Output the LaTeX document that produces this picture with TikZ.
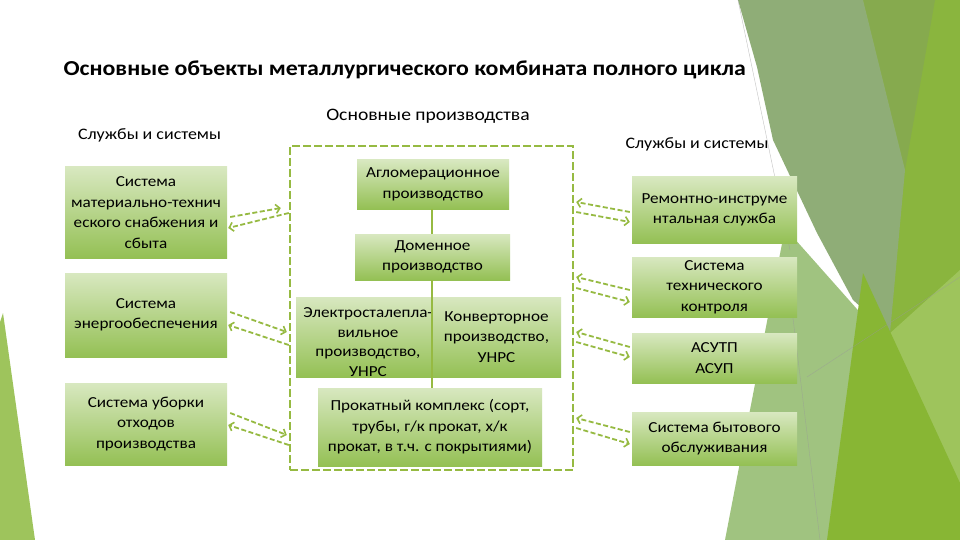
\documentclass[tikz,border=0pt]{standalone}
\usepackage{fontspec}
\setmainfont[FakeStretch=1.12]{Carlito}
\usetikzlibrary{arrows.meta,calc}
\definecolor{boxtop}{RGB}{216,232,192}
\definecolor{boxbot}{RGB}{148,192,84}
\definecolor{olive}{RGB}{150,186,66}
\definecolor{bggray}{RGB}{143,173,119}
\definecolor{bgmid}{RGB}{134,170,78}
\definecolor{bggreen}{RGB}{138,181,62}
\definecolor{bgsage}{RGB}{160,195,128}
\definecolor{bgbright}{RGB}{136,182,52}
\definecolor{bglight}{RGB}{158,196,92}
\begin{document}
\begin{tikzpicture}[x=1pt,y=-1pt,
  box/.style={shade, top color=boxtop, bottom color=boxbot, inner sep=0pt,
    align=center, font=\fontsize{15.3}{20.5}\selectfont, text=black},
  frm/.style={draw=olive, line width=2.4pt, dash pattern=on 8pt off 3pt},
  link/.style={draw=olive, line width=1.8pt, dash pattern=on 5pt off 2.5pt,
    -{Straight Barb[length=4pt,width=9pt,line width=1.6pt]}},
  stem/.style={draw=olive, line width=1.6pt},
  hdr/.style={font=\fontsize{16}{19}\selectfont},
  thin/.style={draw=black!40, line width=0.4pt, opacity=0.6}]
% background
\fill[white] (0,0) rectangle (960,540);
\useasboundingbox (0,0) rectangle (960,540);
\fill[bggreen] (860,0) -- (960,0) -- (960,540) -- (840,540) -- (885,330) -- cycle;
\fill[bgmid] (863,0) -- (935,0) -- (905,170) -- cycle;
\fill[bglight] (888,335) -- (960,270) -- (960,483) -- (900,420) -- cycle;
\fill[bggray] (738,0) -- (863,0) -- (905,170) -- (890,333) -- (853,300) -- (817,233) -- (773,140) -- (757,67) -- cycle;
\fill[bgsage] (785,228) -- (880,335) -- (845,540) -- (725,540) -- cycle;
\fill[bgbright] (863,273) -- (827,540) -- (960,540) -- (960,483) -- cycle;
\draw[thin] (738,0) -- (790,250);
\draw[thin] (792,310) -- (820,540);
\draw[thin] (807,377) -- (960,277);
\fill[bglight] (0,322) -- (3,313) -- (35,540) -- (0,540) -- cycle;
% title and headers
\node[font=\fontsize{21.3}{24}\selectfont\bfseries, anchor=west] (title) at (60,70)
  {Основные объекты металлургического комбината полного цикла};
\node[font=\fontsize{17.5}{20}\selectfont] (hmain) at (428,116) {Основные производства};
\node[hdr] (hleft) at (149.5,135) {Службы и системы};
\node[hdr] (hright) at (697,144) {Службы и системы};
% frame
\node[frm, minimum width=283pt, minimum height=324pt] (frame) at (431.5,308) {};
% left boxes
\node[box, minimum width=162pt, minimum height=91pt] (L1) at (146,212.5)
  {Система\\материально-технич\\еского снабжения и\\сбыта};
\node[box, minimum width=162pt, minimum height=84pt] (L2) at (146,315)
  {Система\\энергообеспечения};
\node[box, minimum width=162pt, minimum height=82pt] (L3) at (146,424)
  {Система уборки\\отходов\\производства};
% centre boxes
\node[box, minimum width=152pt, minimum height=49pt] (C1) at (433,184.5)
  {Агломерационное\\производство};
\node[box, minimum width=155pt, minimum height=46pt] (C2) at (432.5,257)
  {Доменное\\производство};
\node[box, minimum width=137pt, minimum height=80pt] (C3) at (364.5,337) {};
\node[box, minimum width=129pt, minimum height=80pt] (C4) at (496.5,337)
  {Конверторное\\производство,\\УНРС};
\node[font=\fontsize{15.3}{19.5}\selectfont, align=center, inner sep=0pt] (C3t) at (368,342)
  {Электросталепла-\\вильное\\производство,\\УНРС};
\node[box, minimum width=224pt, minimum height=78pt] (C5) at (430,427)
  {Прокатный комплекс (сорт,\\трубы, г/к прокат, х/к\\прокат, в т.ч. с покрытиями)};
% right boxes
\node[box, minimum width=165pt, minimum height=66pt] (R1) at (714.5,210)
  {Ремонтно-инструме\\нтальная служба};
\node[box, minimum width=165pt, minimum height=60pt] (R2) at (714.5,287)
  {Система\\технического\\контроля};
\node[box, minimum width=165pt, minimum height=50pt] (R3) at (714.5,358)
  {АСУТП\\АСУП};
\node[box, minimum width=165pt, minimum height=53pt] (R4) at (714.5,438.5)
  {Система бытового\\обслуживания};
% stems
\draw[stem] (C1.south -| 432,0) -- (C2.north -| 432,0);
\draw[stem] (C2.south -| 432,0) -- (C5.north -| 432,0);
% left links
\draw[link] ($(L1.east)+(3,4.5)$) -- ($(frame.west)+(-8,-100)$);
\draw[link] ($(frame.west)+(0,-95)$) -- ($(L1.east)+(1,15.5)$);
\draw[link] ($(L2.east)+(3,-3)$) -- ($(frame.west)+(-2,24)$);
\draw[link] ($(frame.west)+(0,37)$) -- ($(L2.east)+(1,10)$);
\draw[link] ($(L3.east)+(3,-11)$) -- ($(frame.west)+(-2,127)$);
\draw[link] ($(frame.west)+(0,137)$) -- ($(L3.east)+(1,1)$);
% right links
\draw[link] ($(R1.west)+(-2,2)$) -- ($(frame.east)+(2,-106)$);
\draw[link] ($(frame.east)+(2,-96)$) -- ($(R1.west)+(-2,12)$);
\draw[link] ($(R2.west)+(-2,3)$) -- ($(frame.east)+(2,-31)$);
\draw[link] ($(frame.east)+(2,-20)$) -- ($(R2.west)+(-2,15)$);
\draw[link] ($(R3.west)+(-2,-11)$) -- ($(frame.east)+(2,24)$);
\draw[link] ($(frame.east)+(2,34)$) -- ($(R3.west)+(-2,-1)$);
\draw[link] ($(R4.west)+(-2,-6.5)$) -- ($(frame.east)+(2,110)$);
\draw[link] ($(frame.east)+(2,120)$) -- ($(R4.west)+(-2,5.5)$);
\end{tikzpicture}
\end{document}
